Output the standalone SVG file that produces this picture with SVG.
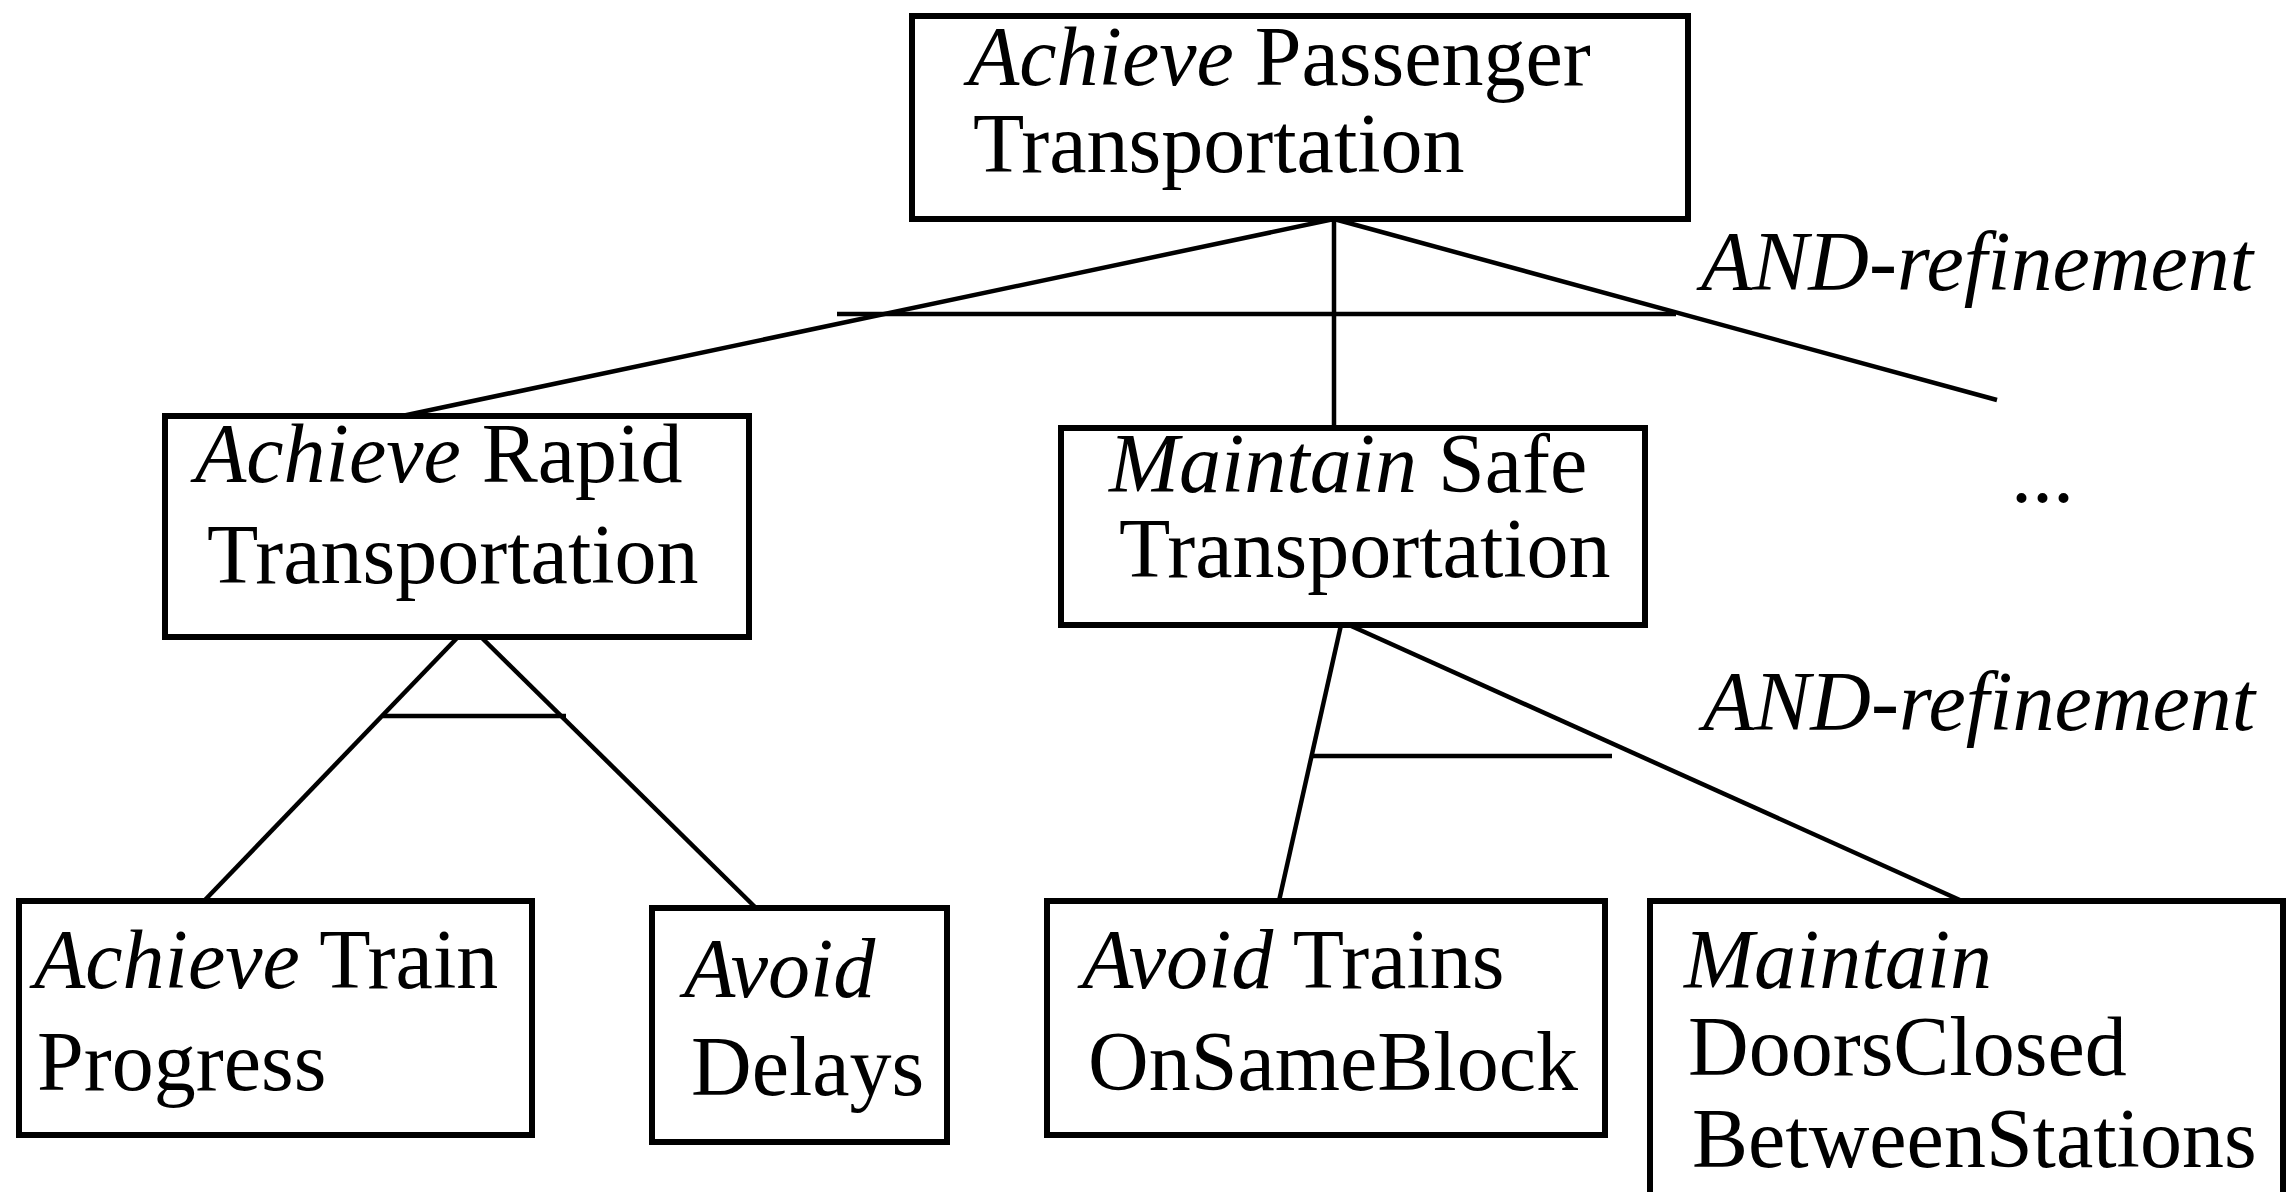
<svg xmlns="http://www.w3.org/2000/svg" width="2288" height="1192" viewBox="0 0 2288 1192">
  <style>
    .box { fill: #ffffff; stroke: #000000; stroke-width: 6; }
    .lbl { font-family: "Liberation Serif", "Times New Roman", serif; font-size: 84px; fill: #000000; }
    .it { font-style: italic; }
    .edge { stroke: #000000; stroke-width: 4.5; fill: none; stroke-linecap: butt; }
  </style>
  <rect width="2288" height="1192" fill="#ffffff"/>

  <!-- refinement links and AND bars -->
  <g id="connectors">
    <!-- top goal refinement -->
    <line class="edge" x1="1334" y1="219" x2="402" y2="416"/>
    <line class="edge" x1="1334" y1="219" x2="1334" y2="428"/>
    <line class="edge" x1="1334" y1="219" x2="1997" y2="400"/>
    <line class="edge" x1="837" y1="314" x2="1676" y2="314"/>
    <!-- rapid transportation refinement -->
    <line class="edge" x1="458" y1="637" x2="204" y2="901"/>
    <line class="edge" x1="481" y1="637" x2="756" y2="908"/>
    <line class="edge" x1="383" y1="716" x2="566" y2="716"/>
    <!-- safe transportation refinement -->
    <line class="edge" x1="1341" y1="625" x2="1279" y2="901"/>
    <line class="edge" x1="1349" y1="625" x2="1962" y2="901"/>
    <line class="edge" x1="1311" y1="756" x2="1612" y2="756"/>
  </g>

  <g id="refinement-labels">
    <text class="lbl it" x="1701" y="290">AND-refinement</text>
    <text class="lbl it" x="1703" y="730">AND-refinement</text>
    <text class="lbl" x="2011" y="502">...</text>
  </g>

  <g id="goal-passenger-transportation">
    <rect class="box" x="912" y="16" width="776" height="203"/>
    <text class="lbl" x="968" y="85"><tspan class="it">Achieve</tspan> Passenger</text>
    <text class="lbl" x="973" y="172">Transportation</text>
  </g>

  <g id="goal-rapid-transportation">
    <rect class="box" x="165" y="416" width="584" height="221"/>
    <text class="lbl" x="195" y="482"><tspan class="it">Achieve</tspan> Rapid</text>
    <text class="lbl" x="207" y="583">Transportation</text>
  </g>

  <g id="goal-safe-transportation">
    <rect class="box" x="1061" y="428" width="584" height="197"/>
    <text class="lbl" x="1109" y="492"><tspan class="it">Maintain</tspan> Safe</text>
    <text class="lbl" x="1119" y="577">Transportation</text>
  </g>

  <g id="goal-train-progress">
    <rect class="box" x="19" y="901" width="513" height="234"/>
    <text class="lbl" x="34" y="988"><tspan class="it">Achieve</tspan> Train</text>
    <text class="lbl" x="37" y="1090">Progress</text>
  </g>

  <g id="goal-avoid-delays">
    <rect class="box" x="652" y="908" width="295" height="234"/>
    <text class="lbl it" x="684" y="997">Avoid</text>
    <text class="lbl" x="691" y="1095">Delays</text>
  </g>

  <g id="goal-trains-same-block">
    <rect class="box" x="1047" y="901" width="558" height="234"/>
    <text class="lbl" x="1082" y="988"><tspan class="it">Avoid</tspan> Trains</text>
    <text class="lbl" x="1088" y="1090">OnSameBlock</text>
  </g>

  <g id="goal-doors-closed">
    <rect class="box" x="1650" y="901" width="633" height="300"/>
    <text class="lbl it" x="1684" y="988">Maintain</text>
    <text class="lbl" x="1688" y="1075">DoorsClosed</text>
    <text class="lbl" x="1692" y="1167">BetweenStations</text>
  </g>
</svg>
